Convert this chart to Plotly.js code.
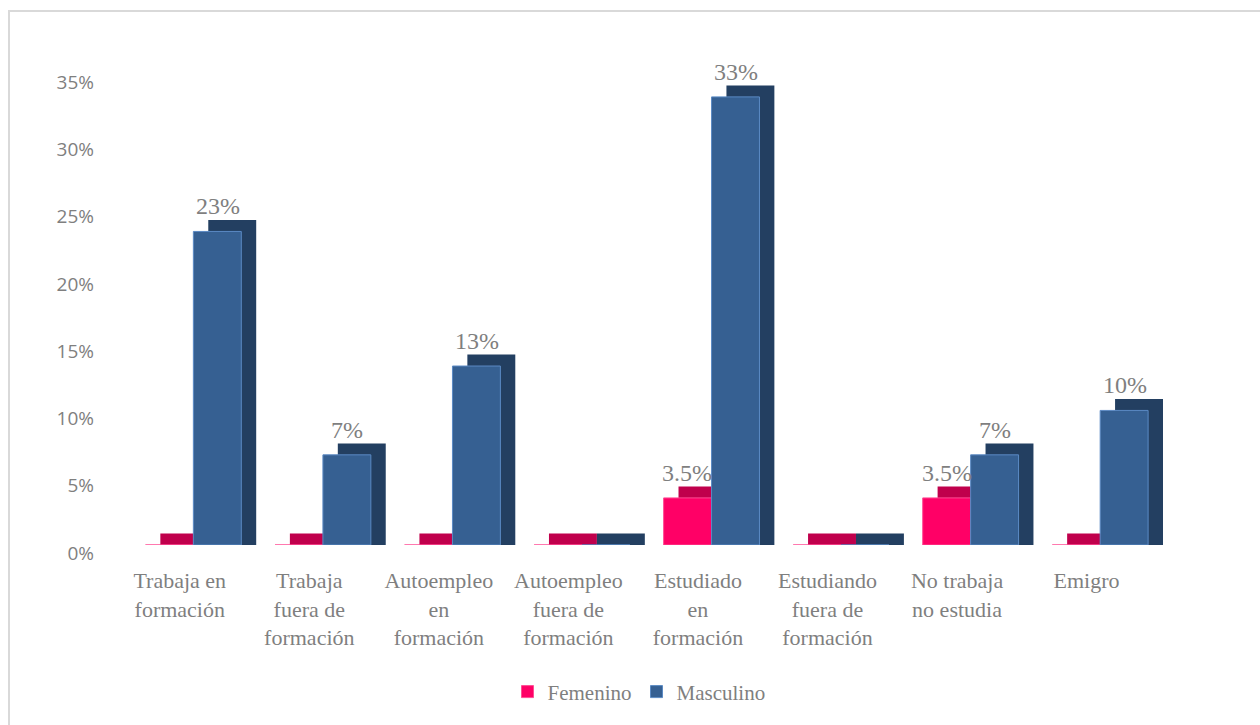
<!DOCTYPE html>
<html>
<head>
<meta charset="utf-8">
<script src="https://cdn.plot.ly/plotly-3.0.1.min.js"></script>
<style>
  html, body { margin: 0; padding: 0; background: #ffffff; }
  #frame { position: absolute; left: 8px; top: 10px; width: 1260px; height: 725px;
           border-left: 2px solid #d9d9d9; border-top: 2px solid #d9d9d9; }
  #chart { position: absolute; left: 0; top: 0; width: 1260px; height: 725px; }
</style>
</head>
<body>
<div id="frame"></div>
<div id="chart"></div>
<script>
// ---- data ----
const categories = [
  "Trabaja en formación", "Trabaja fuera de formación", "Autoempleo en formación",
  "Autoempleo fuera de formación", "Estudiado en formación", "Estudiando fuera de formación",
  "No trabaja no estudia", "Emigro"
];
const tickLabels = [
  "Trabaja en<br>formación", "Trabaja<br>fuera de<br>formación", "Autoempleo<br>en<br>formación",
  "Autoempleo<br>fuera de<br>formación", "Estudiado<br>en<br>formación", "Estudiando<br>fuera de<br>formación",
  "No trabaja<br>no estudia", "Emigro"
];
const femenino = [0, 0, 0, 0, 3.5, 0, 3.5, 0];
const masculino = [23.3, 6.7, 13.3, 0, 33.3, 0, 6.7, 10];
const femeninoLabels = ["", "", "", "", "3.5%", "", "3.5%", ""];
const masculinoLabels = ["23%", "7%", "13%", "", "33%", "", "7%", "10%"];
const yTicks = [0, 5, 10, 15, 20, 25, 30, 35];
const yTickLabels = ["0%", "5%", "10%", "15%", "20%", "25%", "30%", "35%"];

// ---- styling ----
const W = 0.37;           // bar width (category units)
const OFF_F = -0.265;     // offset femenino
const OFF_M = 0.105;      // offset masculino
const DX = 0.115;         // depth shift in x (category units)
const DY = 0.85;          // depth shift in y (percent units)
const PINK = "#ff0066", PINK_DARK = "#c0004c";
const BLUE = "#366092", BLUE_DARK = "#233f61";
const GRAY = "#7f7f7f";
const serif = "'Liberation Serif', 'Times New Roman', serif";

function back(vals, off, color) {
  return {
    type: "bar", x: categories, y: vals.map(v => v + DY),
    offset: off + DX, width: W, marker: { color: color, line: { width: 0 } },
    showlegend: false, hoverinfo: "skip"
  };
}
function front(vals, off, color, lineColor, name) {
  return {
    type: "bar", x: categories, y: vals, name: name,
    offset: off, width: W, marker: { color: color, line: { width: 1, color: lineColor } }
  };
}

const traces = [
  back(femenino, OFF_F, PINK_DARK),
  front(femenino, OFF_F, PINK, "#ff4d94", "Femenino"),
  back(masculino, OFF_M, BLUE_DARK),
  front(masculino, OFF_M, BLUE, "#5b8ac4", "Masculino")
];

const annotations = [];
function addLabels(vals, labels, off) {
  vals.forEach((v, i) => {
    if (!labels[i]) return;
    annotations.push({
      x: categories[i], y: v, xref: "x", yref: "y",
      text: labels[i], showarrow: false,
      xshift: (off + W / 2) * 131, yshift: 25, yanchor: "middle",
      font: { family: serif, size: 24, color: GRAY }
    });
  });
}
addLabels(femenino, femeninoLabels, OFF_F);
addLabels(masculino, masculinoLabels, OFF_M);

const layout = {
  width: 1260, height: 725,
  margin: { l: 115, r: 97, t: 74, b: 180 },
  paper_bgcolor: "rgba(0,0,0,0)", plot_bgcolor: "rgba(0,0,0,0)",
  barmode: "overlay",
  xaxis: {
    type: "category", tickvals: categories, ticktext: tickLabels,
    showgrid: false, zeroline: false, showline: false, ticks: "",
    tickfont: { family: serif, size: 22, color: GRAY },
    ticklabelstandoff: 20, fixedrange: true
  },
  yaxis: {
    range: [0, 35], tickvals: yTicks, ticktext: yTickLabels,
    showgrid: false, zeroline: false, showline: false, ticks: "",
    tickfont: { family: "'Open Sans', sans-serif", size: 19, color: GRAY },
    ticklabelstandoff: 20, ticklabelshift: 8, fixedrange: true
  },
  legend: {
    orientation: "h", x: 0.5, xanchor: "center", y: -0.312, yanchor: "middle",
    font: { family: serif, size: 21, color: GRAY }, traceorder: "normal",
    itemwidth: 30
  },
  annotations: annotations,
  showlegend: true
};

Plotly.newPlot("chart", traces, layout, { displayModeBar: false, staticPlot: true });
</script>
</body>
</html>
